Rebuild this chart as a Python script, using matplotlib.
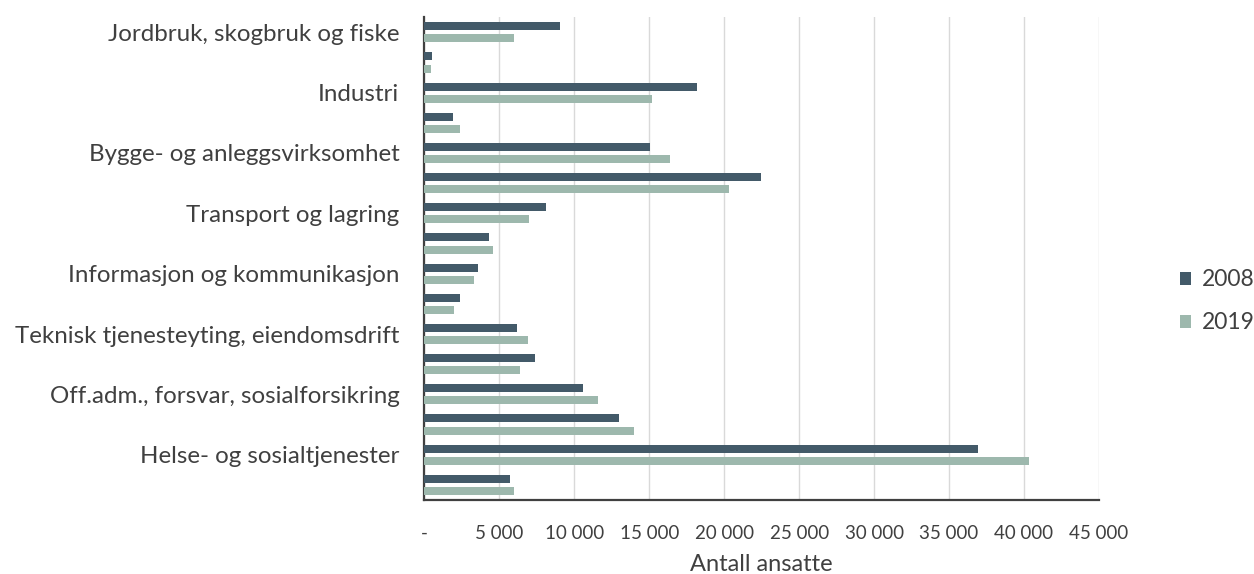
import matplotlib
matplotlib.use("Agg")
import matplotlib.pyplot as plt
import numpy as np
from matplotlib.ticker import FixedLocator, FixedFormatter

# Industry labels (every second row carries a label on the axis)
categories = [
    "Jordbruk, skogbruk og fiske", "",
    "Industri", "",
    "Bygge- og anleggsvirksomhet", "",
    "Transport og lagring", "",
    "Informasjon og kommunikasjon", "",
    "Teknisk tjenesteyting, eiendomsdrift", "",
    "Off.adm., forsvar, sosialforsikring", "",
    "Helse- og sosialtjenester", "",
]

ansatte_2008 = [9050, 480, 18200, 1900, 15050, 22450, 8100, 4300,
                3600, 2400, 6200, 7400, 10550, 13000, 36900, 5700]
ansatte_2019 = [5950, 450, 15150, 2400, 16400, 20300, 6950, 4600,
                3300, 2000, 6900, 6350, 11550, 14000, 40300, 5950]

x_ticks = [0, 5000, 10000, 15000, 20000, 25000, 30000, 35000, 40000, 45000]
x_tick_labels = ["-", "5 000", "10 000", "15 000", "20 000", "25 000",
                 "30 000", "35 000", "40 000", "45 000"]

series_names = ["2008", "2019"]
colors = ["#435a69", "#9db8ad"]

plt.rcParams["font.family"] = ["Lato", "DejaVu Sans"]

fig = plt.figure(figsize=(12.54, 5.74), dpi=100)
ax = fig.add_axes([0.3385, 0.129, 0.8764 - 0.3385, 0.970 - 0.129])

y = np.arange(len(categories))
h = 0.265
off = 0.2
b1 = ax.barh(y - off, ansatte_2008, height=h, color=colors[0], label=series_names[0], zorder=3)
b2 = ax.barh(y + off, ansatte_2019, height=h, color=colors[1], label=series_names[1], zorder=3)

ax.set_ylim(len(categories) - 0.5, -0.5)
ax.set_xlim(0, 45000)

ax.xaxis.set_major_locator(FixedLocator(x_ticks))
ax.xaxis.set_major_formatter(FixedFormatter(x_tick_labels))
ax.set_yticks(y)
ax.set_yticklabels(categories, fontsize=17.4, color="#404040")
ax.tick_params(axis="y", length=0, pad=18)
ax.tick_params(axis="x", length=0, pad=18, labelsize=13.5, labelcolor="#404040")

ax.grid(axis="x", color="#d9d9d9", linewidth=1, zorder=0)
for s in ["top", "right"]:
    ax.spines[s].set_visible(False)
ax.spines["left"].set_color("#404040")
ax.spines["left"].set_linewidth(1.6)
ax.spines["bottom"].set_color("#404040")
ax.spines["bottom"].set_linewidth(1.6)

ax.set_xlabel("Antall ansatte", fontsize=17, color="#404040", labelpad=9)

fig.legend(handles=[b1, b2], labels=series_names, loc="center left",
           bbox_to_anchor=(0.941, 0.475), frameon=False, fontsize=16.5,
           borderaxespad=0, borderpad=0,
           handlelength=0.5, handleheight=0.5, handletextpad=0.45,
           labelspacing=0.95, labelcolor="#404040")

fig.savefig("out.png", dpi=100, facecolor="white")
